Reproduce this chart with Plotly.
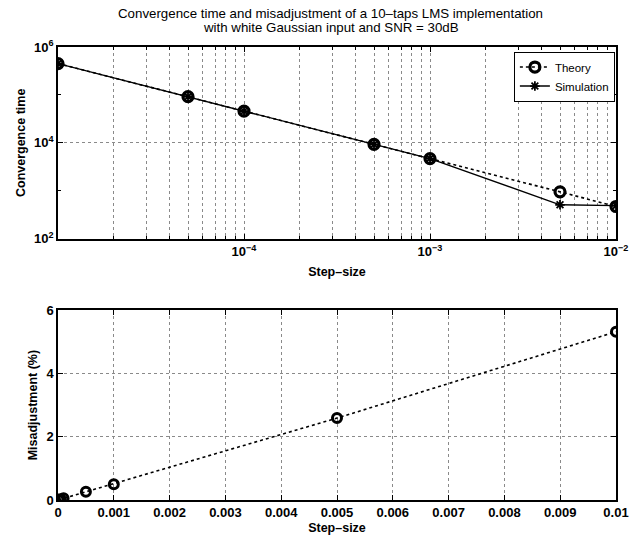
import plotly.graph_objects as go

# Step sizes of the LMS runs
step_size = [1e-5, 5e-5, 1e-4, 5e-4, 1e-3, 5e-3, 1e-2]
# Convergence time (samples)
conv_theory = [4.5e5, 9.2e4, 4.6e4, 9.3e3, 4.7e3, 950, 470]
conv_simulation = [4.5e5, 9.2e4, 4.6e4, 9.3e3, 4.7e3, 510, 490]
# Misadjustment (%)
misadj_theory = [0.005, 0.026, 0.053, 0.26, 0.5, 2.59, 5.32]

top_xticks = [1e-4, 1e-3, 1e-2]
top_xlabels = ["10<sup>−4</sup>", "10<sup>−3</sup>", "10<sup>−2</sup>"]
top_yticks = [1e2, 1e4, 1e6]
top_ylabels = ["10<sup>2</sup>", "10<sup>4</sup>", "10<sup>6</sup>"]
bot_xticks = [0, 0.001, 0.002, 0.003, 0.004, 0.005, 0.006, 0.007, 0.008, 0.009, 0.01]
bot_xlabels = ["0", "0.001", "0.002", "0.003", "0.004", "0.005", "0.006",
               "0.007", "0.008", "0.009", "0.01"]
bot_yticks = [0, 2, 4, 6]
bot_ylabels = ["0", "2", "4", "6"]
title_lines = ["Convergence time and misadjustment of a 10–taps LMS implementation",
               "with white Gaussian input and SNR = 30dB"]

FONT = "Liberation Sans, Arial, sans-serif"
tick_font = dict(family=FONT, size=13, color="black", weight="bold")
title_font = dict(family=FONT, size=12.5, color="black", weight="bold")
GRID = "#8a8a8a"

fig = go.Figure()

fig.add_trace(go.Scatter(
    x=step_size, y=conv_theory, name="Theory", xaxis="x", yaxis="y",
    mode="lines+markers",
    line=dict(color="black", width=1.6, dash="dot"),
    marker=dict(symbol="circle-open", size=10, color="black", line=dict(width=3.2)),
))
fig.add_trace(go.Scatter(
    x=step_size, y=conv_simulation, name="Simulation", xaxis="x", yaxis="y",
    mode="lines+markers",
    line=dict(color="black", width=1.4),
    marker=dict(symbol="asterisk", size=8, color="black", line=dict(width=1.8, color="black")),
))
fig.add_trace(go.Scatter(
    x=step_size, y=misadj_theory, showlegend=False, xaxis="x2", yaxis="y2",
    mode="lines+markers",
    line=dict(color="black", width=1.6, dash="dot"),
    marker=dict(symbol="circle-open", size=9, color="black", line=dict(width=3)),
))

minor_x = [m * 10.0 ** e for e in (-5, -4, -3) for m in range(2, 10)]

axis_common = dict(
    showline=True, linecolor="black", linewidth=1.5, mirror="ticks",
    ticks="inside", ticklen=5, tickcolor="black", tickwidth=1,
    showgrid=True, gridcolor=GRID, griddash="dot", gridwidth=1,
    zeroline=False, tickfont=tick_font,
)

# two title lines placed separately for tight line spacing
title_notes = [
    dict(text=line, xref="paper", yref="paper", x=0.4886, y=ypos,
         xanchor="center", yanchor="middle", showarrow=False,
         font=dict(family=FONT, size=13.3, color="black"))
    for line, ypos in zip(title_lines, [1.0746, 1.0439])
]

fig.update_layout(
    width=641, height=545,
    margin=dict(l=58, r=14, t=47, b=42),
    paper_bgcolor="white", plot_bgcolor="white",
    font=dict(family=FONT, color="black"),
    xaxis=dict(
        axis_common, type="log", range=[-5, -2], domain=[0, 1], anchor="y",
        tickvals=top_xticks, ticktext=top_xlabels,
        minor=dict(tickvals=minor_x, ticks="inside", ticklen=3, tickcolor="black",
                   showgrid=True, gridcolor=GRID, griddash="dot", gridwidth=1),
        title=dict(text="Step–size", standoff=9, font=title_font),
    ),
    yaxis=dict(
        axis_common, type="log", range=[2, 6], domain=[0.5768, 1.0], anchor="x",
        tickvals=top_yticks, ticktext=top_ylabels,
        minor=dict(tickvals=[1e3, 1e5], ticks="inside", ticklen=3, tickcolor="black",
                   showgrid=False),
        title=dict(text="Convergence time", standoff=6, font=title_font),
    ),
    xaxis2=dict(
        axis_common, range=[0, 0.01], domain=[0, 1], anchor="y2",
        tickvals=bot_xticks, ticktext=bot_xlabels,
        title=dict(text="Step–size", standoff=4, font=title_font),
    ),
    yaxis2=dict(
        axis_common, range=[0, 6], domain=[0, 0.4189], anchor="x2",
        tickvals=bot_yticks, ticktext=bot_ylabels,
        title=dict(text="Misadjustment (%)", standoff=6, font=title_font),
    ),
    legend=dict(
        x=0.998, xanchor="right", y=0.99, yanchor="top",
        bgcolor="white", bordercolor="black", borderwidth=1,
        font=dict(family=FONT, size=11.5, color="black"),
        tracegroupgap=0, itemwidth=30,
    ),
    annotations=title_notes,
)

fig.write_html("out.html")
